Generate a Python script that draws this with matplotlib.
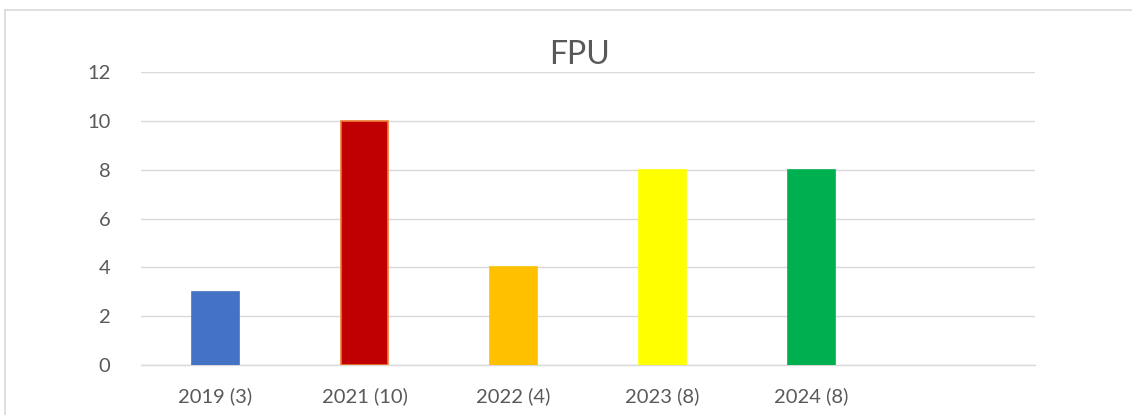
import matplotlib
matplotlib.use("Agg")
import matplotlib.pyplot as plt
from matplotlib.lines import Line2D

categories = ["2019 (3)", "2021 (10)", "2022 (4)", "2023 (8)", "2024 (8)", ""]
values = [3, 10, 4, 8, 8, 0]
colors = ["#4472C4", "#C00000", "#FFC000", "#FFFF00", "#00B050", "#FFFFFF"]
edges = ["#4472C4", "#ED7D31", "#FFC000", "#FFFF00", "#00B050", "#FFFFFF"]
yticks = [0, 2, 4, 6, 8, 10, 12]

plt.rcParams['font.family'] = ['Lato', 'DejaVu Sans']

W, H = 1132, 415
fig = plt.figure(figsize=(W / 100, H / 100), dpi=100)
ax = fig.add_axes([141 / W, 1 - 365 / H, (1035 - 141) / W, (365 - 72) / H])

x = list(range(len(categories)))
bars = ax.bar(x[:5], values[:5], width=0.32, color=colors[:5], edgecolor=edges[:5],
              linewidth=1.2, zorder=3)

ax.set_xlim(-0.5, len(categories) - 0.5)
ax.set_ylim(0, 12)
ax.set_yticks(yticks)
ax.set_xticks(x)
ax.set_xticklabels(categories)
ax.yaxis.grid(True, color="#d9d9d9", linewidth=1.0, zorder=0)
for s in ["top", "right", "left"]:
    ax.spines[s].set_visible(False)
ax.spines["bottom"].set_color("#d9d9d9")
ax.spines["bottom"].set_linewidth(1.0)
ax.tick_params(axis="both", length=0, colors="#595959", labelsize=14.5)
ax.tick_params(axis="y", pad=22)
ax.tick_params(axis="x", pad=16)

fig.text(579 / W, 1 - 55 / H, "FPU", ha="center", va="center", fontsize=23, color="#595959")

# chart frame
fig.add_artist(Line2D([4.5 / W, 1], [1 - 10.5 / H, 1 - 10.5 / H], color="#d9d9d9", lw=1.2,
                      transform=fig.transFigure))
fig.add_artist(Line2D([4.5 / W, 4.5 / W], [0, 1 - 10.5 / H], color="#d9d9d9", lw=1.2,
                      transform=fig.transFigure))

fig.savefig("out.png", dpi=100)
